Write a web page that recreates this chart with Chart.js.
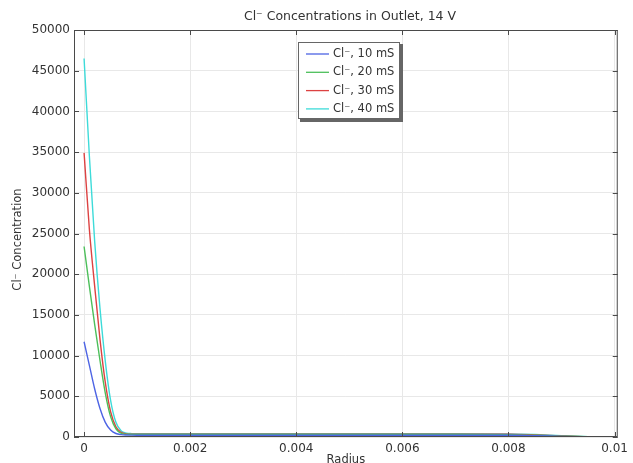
<!DOCTYPE html>
<html>
<head>
<meta charset="utf-8">
<script src="https://cdn.jsdelivr.net/npm/chart.js@4"></script>
<style>
  html, body { margin: 0; padding: 0; background: #fff; }
  #wrap { width: 633px; height: 463px; }
</style>
</head>
<body>
<div id="wrap"><canvas id="c" width="633" height="463"></canvas></div>
<script>
  // Valeurs (Radius en m)
  var radius = [0, 0.0001, 0.0002, 0.0003, 0.0004, 0.0005, 0.0006, 0.0007, 0.0008, 0.0009, 0.001,
    0.002, 0.003, 0.004, 0.005, 0.006, 0.007, 0.008, 0.0085, 0.009, 0.0095, 0.0098, 0.01];
  var cl10 = [11700, 8800, 5900, 3500, 1800, 850, 430, 290, 240, 225, 220,
    220, 220, 220, 220, 220, 220, 210, 160, 80, 20, 5, 0];
  var cl20 = [23400, 18500, 13800, 9400, 5400, 2500, 1000, 450, 330, 305, 300,
    300, 300, 300, 300, 300, 300, 290, 220, 110, 25, 5, 0];
  var cl30 = [34900, 25500, 18500, 12000, 6700, 3100, 1250, 560, 390, 355, 350,
    350, 350, 350, 350, 350, 350, 340, 260, 130, 30, 8, 0];
  var cl40 = [46500, 34500, 24000, 15800, 9300, 4500, 1800, 740, 470, 420, 410,
    400, 400, 400, 400, 400, 400, 390, 310, 170, 50, 15, 0];

  var seriesLabels = ['Cl\u207B, 10 mS', 'Cl\u207B, 20 mS', 'Cl\u207B, 30 mS', 'Cl\u207B, 40 mS'];
  var seriesColors = ['#4d64e4', '#4cbf5a', '#dc4242', '#3ddbd9'];

  var xTicks = [0, 0.002, 0.004, 0.006, 0.008, 0.01];
  var xTickLabels = ['0', '0.002', '0.004', '0.006', '0.008', '0.01'];
  var yTicks = [0, 5000, 10000, 15000, 20000, 25000, 30000, 35000, 40000, 45000, 50000];

  var FONT = '"DejaVu Sans", sans-serif';

  function pts(values) {
    return radius.map(function (r, i) { return { x: r, y: values[i] }; });
  }

  // Cadre, ticks vers l'intérieur, titres et légende
  var framePlugin = {
    id: 'frame',
    afterDraw: function (chart) {
      var ctx = chart.ctx;
      var a = chart.chartArea;
      var xs = chart.scales.x, ys = chart.scales.y;
      ctx.save();
      ctx.strokeStyle = '#4a4a4a';
      ctx.lineWidth = 1;
      ctx.strokeRect(a.left + 0.5, a.top + 0.5, a.right - a.left - 1, a.bottom - a.top - 1);
      ctx.beginPath();
      xTicks.forEach(function (v) {
        var px = Math.round(xs.getPixelForValue(v)) + 0.5;
        ctx.moveTo(px, a.bottom); ctx.lineTo(px, a.bottom - 5);
        ctx.moveTo(px, a.top); ctx.lineTo(px, a.top + 5);
      });
      yTicks.forEach(function (v) {
        var py = Math.round(ys.getPixelForValue(v)) + 0.5;
        ctx.moveTo(a.left, py); ctx.lineTo(a.left + 5, py);
        ctx.moveTo(a.right, py); ctx.lineTo(a.right - 5, py);
      });
      ctx.stroke();

      // titres
      ctx.fillStyle = '#333';
      ctx.font = '12.5px ' + FONT;
      ctx.textAlign = 'center';
      ctx.textBaseline = 'middle';
      ctx.fillText('Cl\u207B Concentrations in Outlet, 14 V', 350, 17);
      ctx.font = '11.5px ' + FONT;
      ctx.fillText('Radius', (a.left + a.right) / 2, 460);
      ctx.save();
      ctx.translate(18, (a.top + a.bottom) / 2 + 6);
      ctx.rotate(-Math.PI / 2);
      ctx.fillText('Cl\u207B Concentration', 0, 0);
      ctx.restore();

      // légende
      var lx = 298, ly = 42, lw = 102, lh = 77;
      ctx.fillStyle = '#666';
      ctx.fillRect(lx + 2, ly + 2, lw + 1, lh + 1);
      ctx.fillStyle = '#fff';
      ctx.fillRect(lx, ly, lw, lh);
      ctx.strokeStyle = '#666';
      ctx.lineWidth = 1;
      ctx.strokeRect(lx + 0.5, ly + 0.5, lw - 1, lh - 1);
      ctx.textAlign = 'left';
      ctx.font = '11.5px ' + FONT;
      chart.data.datasets.forEach(function (ds, i) {
        var ry = 54 + i * 18.3;
        ctx.strokeStyle = ds.borderColor;
        ctx.lineWidth = 1.3;
        ctx.beginPath();
        ctx.moveTo(306, ry); ctx.lineTo(329, ry);
        ctx.stroke();
        ctx.fillStyle = '#333';
        ctx.fillText(ds.label, 333, ry);
      });
      ctx.restore();
    }
  };

  var datasets = [cl10, cl20, cl30, cl40].map(function (vals, i) {
    return {
      label: seriesLabels[i],
      data: pts(vals),
      borderColor: seriesColors[i],
      borderWidth: 1.4,
      pointRadius: 0,
      fill: false,
      cubicInterpolationMode: 'monotone'
    };
  });

  new Chart(document.getElementById('c'), {
    type: 'line',
    data: { datasets: datasets },
    plugins: [framePlugin],
    options: {
      responsive: false,
      animation: false,
      layout: { padding: { top: 30, right: 13, left: 0, bottom: 0 } },
      plugins: { legend: { display: false }, title: { display: false }, tooltip: { enabled: false } },
      scales: {
        x: {
          type: 'linear',
          min: -0.00019,
          max: 0.01006,
          afterBuildTicks: function (s) { s.ticks = xTicks.map(function (v) { return { value: v }; }); },
          afterFit: function (s) { s.height = 26; },
          grid: { color: '#e8e8e8', drawTicks: false },
          border: { display: false },
          ticks: {
            padding: 5,
            color: '#333',
            font: { family: FONT, size: 12 },
            maxRotation: 0,
            callback: function (v) { var k = xTicks.indexOf(v); return k >= 0 ? xTickLabels[k] : ''; }
          }
        },
        y: {
          type: 'linear',
          min: 0,
          max: 50000,
          afterBuildTicks: function (s) { s.ticks = yTicks.map(function (v) { return { value: v }; }); },
          afterFit: function (s) { s.width = 74; },
          grid: { color: '#e8e8e8', drawTicks: false },
          border: { display: false },
          ticks: {
            padding: 4,
            color: '#333',
            font: { family: FONT, size: 12 },
            callback: function (v) { return String(v); }
          }
        }
      }
    }
  });
</script>
</body>
</html>
